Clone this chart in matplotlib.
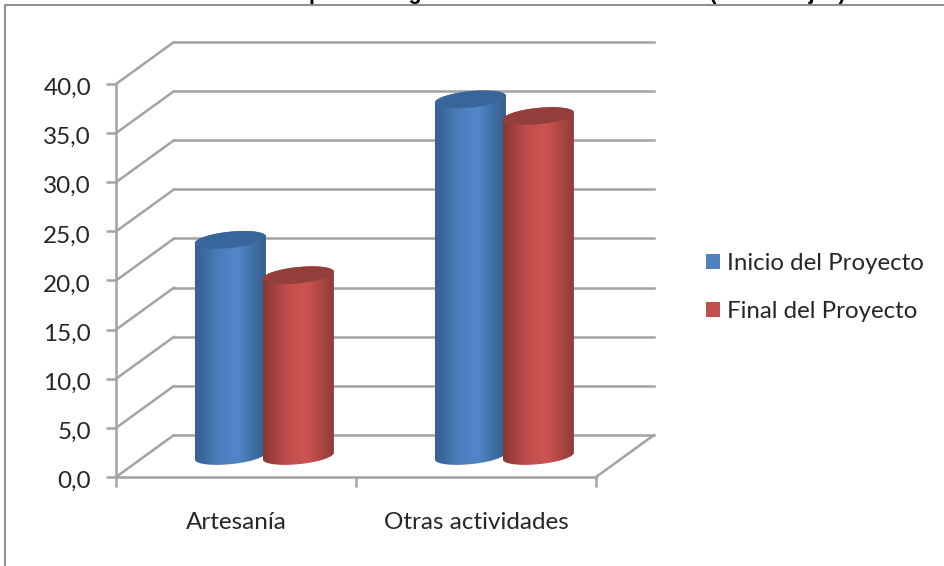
import numpy as np
import matplotlib
matplotlib.use("Agg")
import matplotlib.pyplot as plt
from matplotlib.lines import Line2D
from matplotlib.patches import Polygon, Patch
from matplotlib.transforms import ScaledTranslation

categories = ["Artesanía", "Otras actividades"]
series_names = ["Inicio del Proyecto", "Final del Proyecto"]
inicio = [22.0, 36.3]
final = [18.4, 34.6]
y_ticks = [0, 5, 10, 15, 20, 25, 30, 35, 40]
y_labels = ["0,0", "5,0", "10,0", "15,0", "20,0", "25,0", "30,0", "35,0", "40,0"]
title = "Gráfico 1. Variación de la ocupación según actividad de la artesanía (Porcentajes)"

W, H = 945, 566
FONT = "Lato"
TXT = "#262626"
GRID = "#a3a3a3"
LW = 1.8
fig = plt.figure(figsize=(W / 100, H / 100), dpi=100, facecolor="white")
ax = fig.add_axes([116 / W, 1 - 477 / H, 480 / W, 393 / H])
ax.patch.set_alpha(0)

PX = 2 / 480          # data x per pixel
PY = 40 / 393         # data y per pixel
depth_x, depth_y = 58 * PX, 42 * PY

# walls and floor
for v in y_ticks:
    ax.plot([0, depth_x], [v, v + depth_y], color=GRID, lw=LW, zorder=1, clip_on=False, solid_capstyle="round")
    ax.plot([depth_x, 2 + depth_x], [v + depth_y] * 2, color=GRID, lw=LW, zorder=1, clip_on=False)
ax.plot([2, 2 + depth_x], [0, depth_y], color=GRID, lw=LW, zorder=1, clip_on=False, solid_capstyle="round")


def cylinder(xc, v, dark_l, mid, dark_r, cap, z):
    a, b, k = 35.5 * PX, 8.2 * PY, 3.4 * PY
    x0 = xc + 0.5 * depth_x - 0.6 * PX
    y0 = 0.5 * depth_y
    t = np.linspace(np.pi, 2 * np.pi, 80)
    ex = a * np.cos(t)
    elo = b * np.sin(t) + k * np.cos(t)
    tu = np.linspace(0, np.pi, 80)
    eux = a * np.cos(tu)
    eu = b * np.sin(tu) + k * np.cos(tu)
    top = y0 + v
    body = np.vstack([
        np.c_[x0 + ex, y0 + elo],
        np.c_[x0 + eux, top + eu],
    ])
    clip = Polygon(body, closed=True, fc="none", ec="none", transform=ax.transData, clip_on=False)
    ax.add_patch(clip)
    c = [np.array(matplotlib.colors.to_rgb(s)) for s in (dark_l, mid, dark_r)]
    s = np.linspace(0, 1, 256)
    g = np.array([np.interp(s, [0, .35, .6, 1], [c[0][i], .5 * (c[0][i] + c[1][i]) + .3 * (c[1][i] - c[0][i]), c[1][i], c[2][i]])
                  for i in range(3)]).T[None, :, :]
    im = ax.imshow(g, extent=[x0 - a, x0 + a, y0 - 2, top + 2], aspect="auto", zorder=z, interpolation="bilinear")
    im.set_clip_path(clip)
    capxy = np.vstack([np.c_[x0 + ex, top + elo], np.c_[x0 + eux, top + eu]])
    ax.add_patch(Polygon(capxy, closed=True, fc=cap, ec="none", zorder=z + 0.1, clip_on=False))


width = 68 * PX
for i in range(len(categories)):
    xc = i + 0.5
    cylinder(xc - width / 2, inicio[i], "#35608f", "#5186c9", "#355d8b", "#39669a", 2 + i)
    cylinder(xc + width / 2, final[i], "#873836", "#cf5451", "#8f3b39", "#953f3d", 2.5 + i)

ax.set_xlim(0, 2)
ax.set_ylim(0, 40)
for s in ("top", "right"):
    ax.spines[s].set_visible(False)
for s in ("left", "bottom"):
    ax.spines[s].set_color(GRID)
    ax.spines[s].set_linewidth(LW)
    ax.spines[s].set_zorder(1.5)
ax.set_yticks(y_ticks, y_labels, fontname=FONT, fontsize=17.5, color=TXT)
ax.tick_params(axis="y", length=7, width=LW, color=GRID, pad=11)
shift = ScaledTranslation(0, -2.5 / 100, fig.dpi_scale_trans)
for lab in ax.get_yticklabels():
    lab.set_transform(lab.get_transform() + shift)
ax.set_xticks([0, 1, 2], ["", "", ""])
ax.tick_params(axis="x", which="major", length=7, width=LW, color=GRID)
ax.set_xticks([0.5, 1.5], categories, minor=True, fontname=FONT, fontsize=17.5, color=TXT)
ax.tick_params(axis="x", which="minor", length=0, pad=25)

handles = [Patch(fc="#4f81bd", ec="none"), Patch(fc="#c0504d", ec="none")]
fig.legend(handles, series_names, loc="upper left", bbox_to_anchor=(701 / W, 1 - 248 / H),
           frameon=False, handlelength=0.58, handleheight=0.58, handletextpad=0.3,
           labelspacing=1.14, borderpad=0.2, borderaxespad=0,
           prop={"family": FONT, "size": 17.3}, labelcolor=TXT)

# frame of the pasted chart and the clipped caption above it
fig.add_artist(Line2D([5.5 / W, 5.5 / W, 1], [0, 1 - 4.5 / H, 1 - 4.5 / H], color="#8c8c8c", lw=1.4))
fig.text(8 / W, 1 + 0.5 / H, title, fontname="Liberation Sans", fontweight="bold", fontsize=15.5,
         va="baseline", ha="left", color="black")

fig.savefig("out.png", dpi=100)
